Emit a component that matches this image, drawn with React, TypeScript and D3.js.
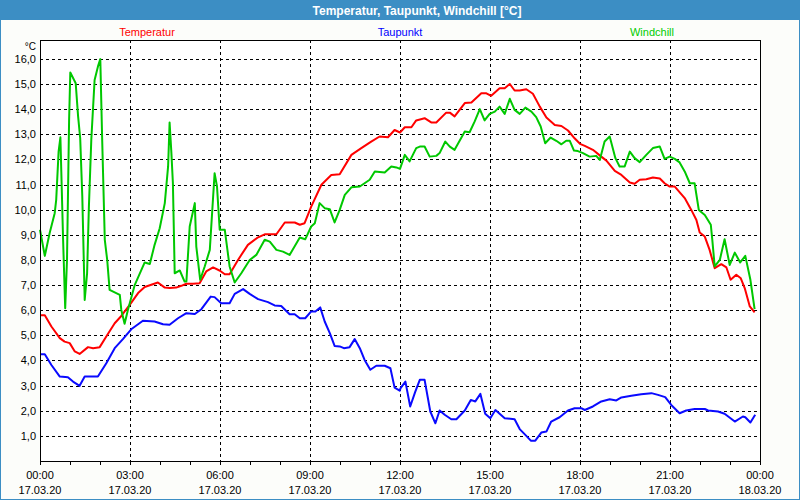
import React from "react";
import * as d3 from "d3";

// ---- data (hour of day, °C) ----
const xTickLabels = ["00:00", "03:00", "06:00", "09:00", "12:00", "15:00", "18:00", "21:00", "00:00"];
const xDateLabels = ["17.03.20", "17.03.20", "17.03.20", "17.03.20", "17.03.20", "17.03.20", "17.03.20", "17.03.20", "18.03.20"];
const yTicks = [1, 2, 3, 4, 5, 6, 7, 8, 9, 10, 11, 12, 13, 14, 15, 16];
const seriesNames = ["Temperatur", "Taupunkt", "Windchill"];

const temperatur: [number, number][] = [
  [0, 5.8], [0.16, 5.8], [0.38, 5.35], [0.66, 4.89], [0.82, 4.75], [0.99, 4.69], [1.16, 4.36], [1.32, 4.26],
  [1.6, 4.53], [1.77, 4.49], [1.99, 4.53], [2.21, 4.95], [2.49, 5.48], [2.71, 5.77], [2.99, 6.21], [3.27, 6.68],
  [3.49, 6.92], [3.71, 7.01], [3.93, 7.1], [4.16, 6.9], [4.32, 6.88], [4.54, 6.9], [4.71, 6.97], [4.88, 7.05],
  [5.1, 7.05], [5.32, 7.07], [5.54, 7.54], [5.77, 7.7], [6.0, 7.57], [6.16, 7.43], [6.32, 7.43], [6.6, 8.0],
  [6.93, 8.6], [7.27, 8.9], [7.49, 9.02], [7.88, 9.02], [8.16, 9.49], [8.49, 9.49], [8.66, 9.4], [8.82, 9.46],
  [9.04, 10.12], [9.38, 10.99], [9.71, 11.38], [9.99, 11.41], [10.38, 12.18], [10.71, 12.45], [11.04, 12.71],
  [11.32, 12.91], [11.6, 12.88], [11.82, 13.17], [12.0, 13.07], [12.16, 13.28], [12.38, 13.28], [12.54, 13.55],
  [12.82, 13.64], [13.04, 13.47], [13.21, 13.47], [13.54, 13.86], [13.66, 13.86], [13.82, 13.71], [14.16, 14.24],
  [14.38, 14.26], [14.71, 14.63], [14.88, 14.63], [15.04, 14.53], [15.32, 14.83], [15.49, 14.83], [15.66, 15.0],
  [15.82, 14.74], [15.99, 14.74], [16.21, 14.79], [16.43, 14.61], [16.66, 14.1], [16.88, 13.67], [17.16, 13.37],
  [17.38, 13.33], [17.6, 13.15], [17.82, 12.84], [18.0, 12.62], [18.16, 12.54], [18.43, 12.38], [18.71, 12.11],
  [18.88, 11.95], [19.16, 11.54], [19.38, 11.38], [19.66, 11.08], [19.82, 11.03], [19.99, 11.19], [20.21, 11.21],
  [20.43, 11.28], [20.66, 11.24], [20.82, 11.05], [20.99, 10.92], [21.16, 10.92], [21.49, 10.46], [21.71, 9.99],
  [21.88, 9.59], [21.99, 9.09], [22.16, 8.93], [22.32, 8.4], [22.49, 7.67], [22.71, 7.83], [22.88, 7.7],
  [23.02, 7.21], [23.21, 7.41], [23.36, 7.27], [23.49, 6.88], [23.66, 6.15], [23.82, 5.91],
];

const taupunkt: [number, number][] = [
  [0, 4.25], [0.16, 4.25], [0.38, 3.82], [0.66, 3.36], [0.93, 3.33], [1.1, 3.16], [1.32, 2.99], [1.49, 3.36],
  [1.93, 3.36], [2.21, 3.89], [2.49, 4.49], [2.77, 4.86], [3.04, 5.24], [3.43, 5.58], [3.82, 5.55], [4.1, 5.44],
  [4.32, 5.42], [4.6, 5.68], [4.88, 5.88], [5.16, 5.85], [5.38, 6.04], [5.69, 6.54], [5.82, 6.52], [6.04, 6.28],
  [6.32, 6.28], [6.49, 6.65], [6.77, 6.84], [6.99, 6.65], [7.27, 6.44], [7.6, 6.32], [7.82, 6.19], [8.04, 6.17],
  [8.32, 5.84], [8.49, 5.84], [8.66, 5.68], [8.84, 5.68], [9.04, 5.95], [9.18, 5.95], [9.34, 6.11], [9.49, 5.55],
  [9.66, 5.09], [9.82, 4.58], [9.99, 4.56], [10.13, 4.49], [10.32, 4.53], [10.49, 4.85], [10.66, 4.49],
  [10.82, 4.02], [11.01, 3.63], [11.21, 3.79], [11.49, 3.79], [11.68, 3.69], [11.82, 2.92], [11.99, 2.8],
  [12.02, 2.9], [12.18, 3.16], [12.34, 2.17], [12.51, 2.76], [12.66, 3.23], [12.82, 3.23], [13.01, 1.97],
  [13.18, 1.5], [13.32, 2.01], [13.49, 1.84], [13.71, 1.66], [13.88, 1.66], [14.16, 2.01], [14.36, 2.43],
  [14.51, 2.37], [14.68, 2.67], [14.84, 1.88], [15.01, 1.7], [15.18, 2.03], [15.49, 1.7], [15.82, 1.66],
  [15.99, 1.27], [16.21, 1.0], [16.36, 0.81], [16.51, 0.81], [16.71, 1.13], [16.88, 1.17], [17.04, 1.57],
  [17.32, 1.74], [17.6, 2.01], [17.82, 2.1], [18.04, 2.1], [18.16, 2.03], [18.43, 2.17], [18.71, 2.37],
  [18.99, 2.46], [19.21, 2.41], [19.38, 2.53], [19.71, 2.6], [20.04, 2.66], [20.38, 2.7], [20.6, 2.63],
  [20.84, 2.54], [21.04, 2.23], [21.32, 1.9], [21.54, 2.01], [21.82, 2.07], [22.16, 2.07], [22.27, 2.01],
  [22.6, 1.97], [22.82, 1.88], [23.16, 1.57], [23.43, 1.77], [23.51, 1.74], [23.68, 1.53], [23.84, 1.84],
];

const windchill: [number, number][] = [
  [0, 9.2], [0.16, 8.16], [0.32, 9.06], [0.49, 9.86], [0.54, 10.39], [0.62, 12.31], [0.68, 12.88], [0.71, 11.52],
  [0.77, 8.8], [0.84, 6.08], [0.9, 8.0], [0.97, 13.57], [1.01, 15.46], [1.19, 15.03], [1.27, 13.71], [1.34, 12.84],
  [1.41, 10.52], [1.49, 6.41], [1.57, 7.47], [1.63, 10.12], [1.71, 12.78], [1.82, 15.16], [1.93, 15.69],
  [2.01, 15.99], [2.07, 12.91], [2.16, 8.8], [2.24, 8.0], [2.32, 6.81], [2.66, 6.61], [2.71, 6.01], [2.82, 5.46],
  [2.93, 6.01], [3.16, 7.01], [3.49, 7.9], [3.66, 7.84], [3.82, 8.6], [3.99, 9.26], [4.16, 10.26], [4.27, 11.72],
  [4.32, 13.47], [4.38, 12.25], [4.43, 11.05], [4.49, 7.47], [4.66, 7.58], [4.82, 7.14], [4.88, 7.14],
  [4.99, 9.33], [5.16, 10.26], [5.21, 8.53], [5.34, 7.21], [5.49, 7.74], [5.66, 8.4], [5.82, 11.45], [5.9, 10.92],
  [5.99, 9.2], [6.16, 9.2], [6.32, 7.74], [6.49, 7.1], [6.71, 7.47], [6.99, 8.0], [7.21, 8.2], [7.49, 8.8],
  [7.66, 8.73], [7.88, 8.4], [8.1, 8.33], [8.32, 8.2], [8.66, 8.89], [8.84, 8.82], [9.04, 9.33], [9.16, 9.46],
  [9.32, 10.26], [9.49, 10.06], [9.66, 10.02], [9.82, 9.49], [9.99, 9.99], [10.16, 10.59], [10.38, 10.89],
  [10.66, 10.92], [10.99, 11.19], [11.16, 11.52], [11.49, 11.48], [11.71, 11.72], [11.88, 11.68], [12.0, 11.62],
  [12.16, 12.18], [12.32, 11.92], [12.54, 12.45], [12.66, 12.51], [12.82, 12.51], [12.99, 12.11], [13.21, 12.14],
  [13.32, 12.25], [13.51, 12.71], [13.66, 12.51], [13.82, 12.38], [14.16, 13.11], [14.32, 13.08], [14.49, 13.51],
  [14.66, 14.0], [14.82, 13.55], [14.99, 13.81], [15.16, 13.9], [15.32, 14.1], [15.49, 13.81], [15.66, 14.41],
  [15.82, 13.97], [15.99, 13.81], [16.18, 14.06], [16.38, 13.9], [16.54, 13.68], [16.69, 13.31], [16.84, 12.64],
  [17.02, 12.87], [17.21, 12.74], [17.38, 12.6], [17.54, 12.74], [17.66, 12.74], [17.8, 12.35], [17.93, 12.33],
  [18.1, 12.25], [18.32, 12.11], [18.54, 12.14], [18.66, 11.98], [18.82, 12.71], [18.99, 12.91], [19.18, 12.05],
  [19.32, 11.72], [19.49, 11.72], [19.66, 12.31], [19.82, 12.05], [19.99, 11.89], [20.21, 12.18], [20.43, 12.45],
  [20.66, 12.51], [20.82, 12.02], [20.99, 12.11], [21.16, 12.02], [21.32, 11.88], [21.49, 11.52], [21.66, 11.05],
  [21.82, 11.05], [21.96, 9.99], [22.16, 9.79], [22.36, 9.4], [22.41, 8.8], [22.49, 7.74], [22.66, 8.0],
  [22.82, 8.82], [22.99, 7.8], [23.16, 8.29], [23.34, 7.9], [23.51, 8.16], [23.68, 7.21], [23.82, 6.04],
];

const W = 800;
const H = 500;
const FONT = "'Liberation Sans', Arial, sans-serif";

export default function App() {
  const left = 40, right = 760, top = 40, bottom = 461;
  const x = d3.scaleLinear().domain([0, 24]).range([left, right]);
  const y = d3.scaleLinear().domain([0, 16.75]).range([bottom, top]);
  const line = d3.line<[number, number]>().x((d) => x(d[0])).y((d) => y(d[1]));

  const majorHours = d3.range(0, 25, 3);
  const minorHours = d3.range(0, 25, 1);
  const series = [
    { data: temperatur, color: "#ff0000" },
    { data: taupunkt, color: "#0a0aff" },
    { data: windchill, color: "#00c800" },
  ];
  const legendColors = ["#ff0000", "#0000ff", "#00cc00"];
  const legendX = [147, 400, 652];

  return (
    <svg width={W} height={H} style={{ position: "absolute", left: 0, top: 0 }} fontFamily={FONT}>
      <rect x={0} y={0} width={W} height={H} fill="#fcfdfa" />
      <rect x={0.5} y={0.5} width={W - 1} height={H - 1} fill="none" stroke="#3c8ec4" strokeWidth={1} />
      <rect x={0} y={0} width={W} height={20} fill="#3c8ec4" />
      <text x={417} y={14.5} fill="#ffffff" fontWeight="bold" fontSize={12} textAnchor="middle">
        Temperatur, Taupunkt, Windchill [°C]
      </text>
      {seriesNames.map((n, i) => (
        <text key={n} x={legendX[i]} y={36} fill={legendColors[i]} fontSize={11} textAnchor="middle">
          {n}
        </text>
      ))}

      <rect x={left} y={top} width={right - left} height={bottom - top} fill="#ffffff" />

      {/* grid */}
      {yTicks.map((t) => (
        <line key={"gy" + t} x1={left} x2={right} y1={Math.round(y(t)) + 0.5} y2={Math.round(y(t)) + 0.5}
          stroke="#000" strokeDasharray="3,3" strokeWidth={1} />
      ))}
      {majorHours.slice(1, -1).map((h) => (
        <line key={"gx" + h} x1={Math.round(x(h)) + 0.5} x2={Math.round(x(h)) + 0.5} y1={top} y2={bottom}
          stroke="#000" strokeDasharray="3,3" strokeWidth={1} />
      ))}

      {/* series */}
      {series.map((s, i) => (
        <path key={i} d={line(s.data) || ""} fill="none" stroke={s.color} strokeWidth={2} strokeLinejoin="round" />
      ))}

      {/* frame */}
      <rect x={left + 0.5} y={top + 0.5} width={right - left} height={bottom - top} fill="none" stroke="#000" strokeWidth={1} />
      {minorHours.map((h) => (
        <line key={"tk" + h} x1={Math.round(x(h)) + 0.5} x2={Math.round(x(h)) + 0.5} y1={bottom} y2={bottom + 4}
          stroke="#000" strokeWidth={1} />
      ))}

      {/* y labels */}
      <text x={36} y={50} fontSize={10} textAnchor="end" fill="#000">°C</text>
      {yTicks.map((t) => (
        <text key={"yl" + t} x={36} y={y(t) + 4} fontSize={11} textAnchor="end" fill="#000">
          {d3.format(".1f")(t).replace(".", ",")}
        </text>
      ))}

      {/* x labels */}
      {majorHours.map((h, i) => (
        <g key={"xl" + h}>
          <text x={x(h)} y={479} fontSize={11} textAnchor="middle" fill="#000">{xTickLabels[i]}</text>
          <text x={x(h)} y={494} fontSize={11} textAnchor="middle" fill="#000">{xDateLabels[i]}</text>
        </g>
      ))}
    </svg>
  );
}
